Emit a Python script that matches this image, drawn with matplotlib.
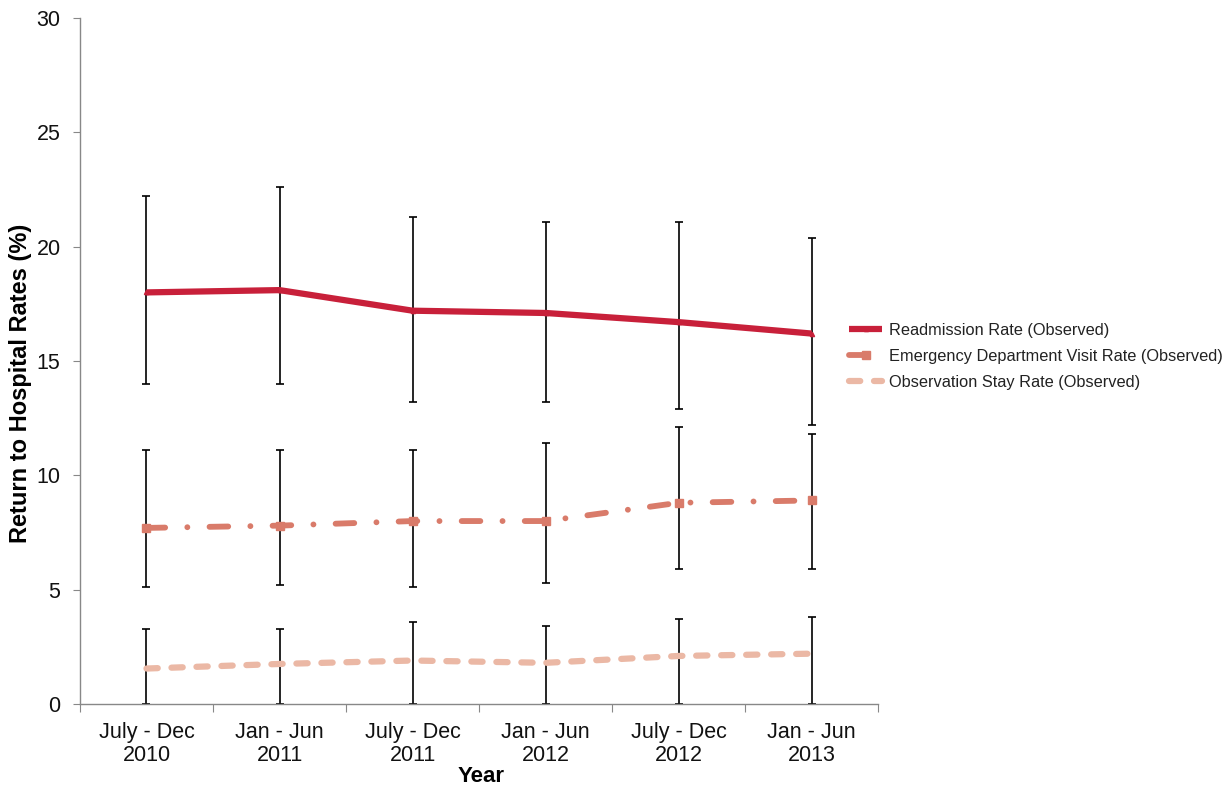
import numpy as np
import matplotlib
matplotlib.use("Agg")
import matplotlib.pyplot as plt

# Half-year periods on the x axis
periods = ["July - Dec\n2010", "Jan - Jun\n2011", "July - Dec\n2011",
           "Jan - Jun\n2012", "July - Dec\n2012", "Jan - Jun\n2013"]

# Observed rates (%) with the low/high ends of each error bar
readmit = [18.0, 18.1, 17.2, 17.1, 16.7, 16.2]
readmit_lo = [14.0, 14.0, 13.2, 13.2, 12.9, 12.2]
readmit_hi = [22.2, 22.6, 21.3, 21.1, 21.1, 20.4]

ed_visit = [7.7, 7.8, 8.0, 8.0, 8.8, 8.9]
ed_lo = [5.1, 5.2, 5.1, 5.3, 5.9, 5.9]
ed_hi = [11.1, 11.1, 11.1, 11.4, 12.1, 11.8]

obs_stay = [1.55, 1.75, 1.9, 1.8, 2.1, 2.2]
obs_lo = [0.0, 0.0, 0.0, 0.0, 0.0, 0.0]
obs_hi = [3.3, 3.3, 3.6, 3.4, 3.7, 3.8]

font = "Liberation Sans"

fig = plt.figure(figsize=(12.32, 7.87), dpi=100)
ax = fig.add_axes([0.0649, 0.1055, 0.648, 0.8716])

x = np.arange(len(periods))

series = [
    ("Readmission Rate (Observed)", readmit, readmit_lo, readmit_hi,
     dict(color="#C8203A", lw=4.5, ls="-", marker="^", ms=3, solid_capstyle="butt")),
    ("Emergency Department Visit Rate (Observed)", ed_visit, ed_lo, ed_hi,
     dict(color="#D97B6A", lw=4.2, ls=(0, (3.2, 3.8, 0.01, 3.8)), marker="s", ms=6,
          dash_capstyle="round")),
    ("Observation Stay Rate (Observed)", obs_stay, obs_lo, obs_hi,
     dict(color="#EBB8A5", lw=4.5, ls=(0, (1.8, 2.2)), dash_capstyle="round")),
]

handles = []
for label, vals, lo, hi, style in series:
    vals = np.array(vals)
    yerr = [vals - np.array(lo), np.array(hi) - vals]
    ax.errorbar(x, vals, yerr=yerr, fmt="none", ecolor="black", elinewidth=1.2,
                capsize=3, capthick=1.2, zorder=2)
    h, = ax.plot(x, vals, label=label, zorder=3, **style)
    handles.append(h)

ax.set_xlim(-0.5, len(periods) - 0.5)
ax.set_ylim(0, 30)
ax.set_yticks(range(0, 31, 5))

# category boundaries get the tick marks, centres get the labels
ax.set_xticks(np.arange(-0.5, len(periods)), labels=[""] * (len(periods) + 1))
ax.set_xticks(x, labels=periods, minor=True)
ax.tick_params(axis="x", which="major", length=6, color="#888888", direction="out")
ax.tick_params(axis="x", which="minor", length=0, pad=13)
ax.tick_params(axis="y", length=5, color="#888888", pad=9)

for lab in ax.get_xticklabels(minor=True) + ax.get_yticklabels():
    lab.set_fontfamily(font)
    lab.set_fontsize(15.5)
    lab.set_color("#111111")
for lab in ax.get_xticklabels(minor=True):
    lab.set_linespacing(1.15)

for side in ("top", "right"):
    ax.spines[side].set_visible(False)
for side in ("left", "bottom"):
    ax.spines[side].set_color("#888888")
    ax.spines[side].set_linewidth(1.0)

ax.set_ylabel("Return to Hospital Rates (%)", fontfamily=font, fontsize=17,
              fontweight="bold")
ax.yaxis.set_label_coords(-0.060, 0.468)
ax.set_xlabel("Year", fontfamily=font, fontsize=16, fontweight="bold")
ax.xaxis.set_label_coords(0.502, -0.090)

fig.legend(handles=handles, loc="center left", bbox_to_anchor=(0.6775, 0.547),
           frameon=False, prop={"family": font, "size": 11.8},
           handlelength=2.0, handletextpad=0.4, labelspacing=0.68,
           labelcolor="#222222")

fig.savefig("out.png", dpi=100)
